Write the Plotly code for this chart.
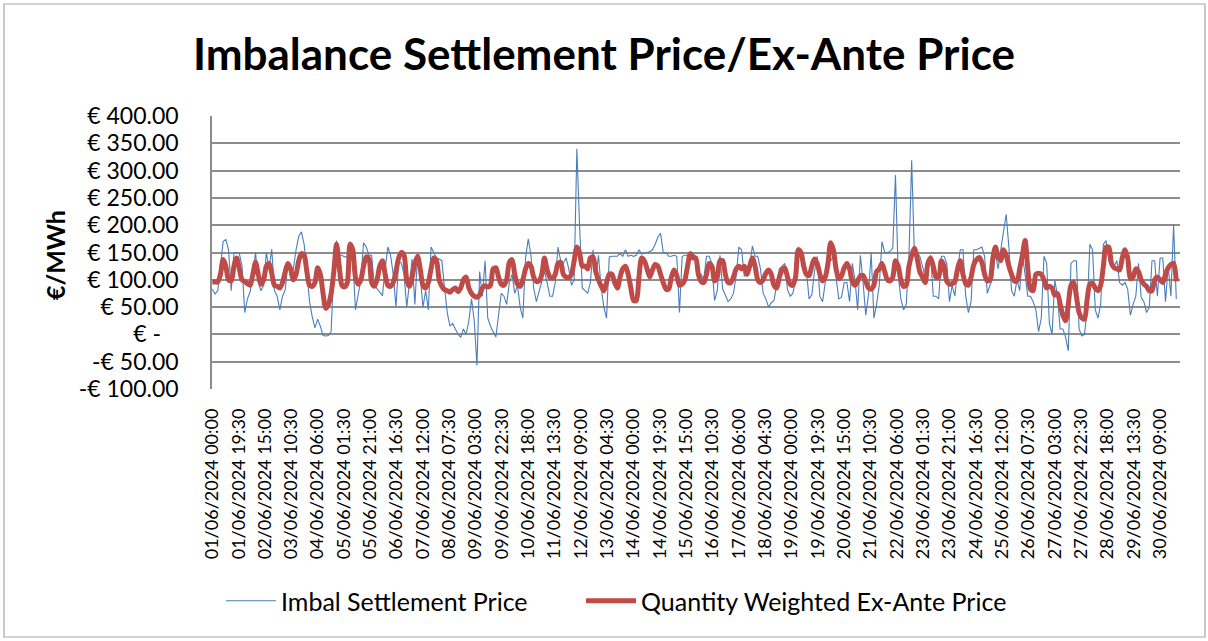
import plotly.graph_objects as go

tick_labels = [
    "01/06/2024 00:00", "01/06/2024 19:30", "02/06/2024 15:00", "03/06/2024 10:30",
    "04/06/2024 06:00", "05/06/2024 01:30", "05/06/2024 21:00", "06/06/2024 16:30",
    "07/06/2024 12:00", "08/06/2024 07:30", "09/06/2024 03:00", "09/06/2024 22:30",
    "10/06/2024 18:00", "11/06/2024 13:30", "12/06/2024 09:00", "13/06/2024 04:30",
    "14/06/2024 00:00", "14/06/2024 19:30", "15/06/2024 15:00", "16/06/2024 10:30",
    "17/06/2024 06:00", "18/06/2024 04:30", "19/06/2024 00:00", "19/06/2024 19:30",
    "20/06/2024 15:00", "21/06/2024 10:30", "22/06/2024 06:00", "23/06/2024 01:30",
    "23/06/2024 21:00", "24/06/2024 16:30", "25/06/2024 12:00", "26/06/2024 07:30",
    "27/06/2024 03:00", "27/06/2024 22:30", "28/06/2024 18:00", "29/06/2024 13:30",
    "30/06/2024 09:00",
]
n_periods = 1434
label_step = 39
sample_step = 4

imbal_price = [
    83, 74, 80, 120, 170, 174, 155, 80, 150, 150, 148, 125, 40, 65, 78, 110, 150, 95, 80, 90,
    150, 120, 156, 80, 70, 45, 70, 82, 130, 105, 120, 155, 180, 188, 165, 115, 60, 32, 12, 28,
    15, -2, -3, -2, 5,
    125, 172, 145, 145, 142, 142, 170, 140, 45, 75, 100, 168, 160, 145, 145, 90, 83, 77, 71, 120,
    160, 145, 110, 50, 135, 130, 110, 50, 100, 138, 55, 145, 107, 50, 80, 45, 160, 150, 140, 138,
    135, 85, 40, 15, 20, 10,
    0, -5, 10, 0, 25, 65, 25, -57, 115, 70, 135, 30, 15, 5, -5, 35, 75, 70, 55, 95,
    110, 75, 90, 50, 30, 140, 175, 145, 85, 60, 80, 100, 115, 95, 70, 70, 95, 160, 135, 130,
    140, 120, 90, 100,
    340, 200, 85, 80, 75, 95, 155, 100, 145, 85, 50, 30, 142, 143, 143, 143, 148, 143, 155, 143,
    145, 143, 145, 155, 147, 148, 150, 152, 155, 165, 178, 185, 150, 150, 143, 143, 145, 143, 40, 143,
    145, 145, 143, 148, 143,
    110, 110, 100, 143, 143, 130, 62, 80, 145, 83, 72, 60, 65, 75, 107, 160, 155, 107, 110, 125,
    162, 143, 143, 120, 75, 65, 50, 58, 62, 90, 120, 125, 130, 82, 70, 75, 100, 160, 150, 140,
    118, 65, 72, 115, 143,
    70, 60, 95, 143, 135, 143, 107, 65, 68, 95, 95, 60, 130, 100, 45, 145, 95, 35, 72, 150,
    30, 55, 90, 170, 150, 150, 152, 158, 292, 110, 65, 45, 55, 145, 319, 148, 150, 143, 125, 105,
    130, 145, 70, 70, 65,
    143, 143, 130, 60, 90, 70, 120, 155, 155, 70, 40, 60, 155, 155, 158, 160, 143, 75, 90, 102,
    150, 120, 155, 190, 220, 160, 80, 70, 100, 80, 145, 110, 70, 70, 60, 45, 5, 30, 143, 130,
    20, 0, 100, 70, 10,
    10, -5, -30, 130, 135, 135, 10, -3, 0, 45, 165, 155, 45, 30, 55, 165, 172, 135, 135, 125,
    135, 95, 90, 95, 83, 35, 55, 70, 130, 68, 60, 40, 50, 135, 135, 70, 140, 140, 60, 125,
    70, 201, 65,
]

ex_ante_price = [
    96, 96, 96, 110, 137, 125, 100, 98, 125, 140, 120, 100, 97, 93, 90, 110, 132, 110, 92, 100,
    125, 130, 112, 90, 88, 85, 95, 115, 130, 120, 100, 110, 135, 148, 145, 115, 90, 88, 95, 122,
    110, 75, 48, 55, 75,
    115, 165, 125, 90, 87, 95, 165, 155, 105, 92, 100, 125, 142, 138, 95, 88, 100, 125, 135, 110,
    90, 88, 95, 115, 140, 150, 145, 100, 88, 105, 130, 143, 120, 90, 85, 95, 120, 140, 135, 100,
    88, 82, 80, 77, 82, 85,
    78, 85, 100, 105, 85, 75, 70, 68, 72, 85, 89, 87, 90, 120, 122, 105, 92, 90, 100, 132,
    137, 110, 92, 88, 100, 120, 130, 125, 105, 97, 98, 110, 140, 118, 105, 103, 110, 130, 132, 110,
    105, 104, 110, 135,
    160, 150, 125, 125, 120, 140, 142, 115, 100, 89, 80, 95, 110, 110, 95, 85, 105, 120, 125, 110,
    85, 62, 62, 105, 140, 135, 120, 105, 118, 128, 125, 110, 95, 83, 83, 105, 118, 108, 90, 92,
    100, 125, 148, 140, 140,
    110, 97, 95, 110, 130, 125, 98, 105, 135, 135, 110, 95, 95, 105, 120, 125, 120, 125, 110, 125,
    140, 125, 100, 95, 100, 112, 118, 110, 90, 85, 105, 118, 122, 105, 92, 90, 105, 155, 150, 125,
    110, 108, 125, 138, 130,
    110, 98, 105, 130, 168, 155, 120, 102, 107, 122, 130, 120, 97, 90, 98, 107, 108, 97, 85, 83,
    90, 115, 120, 130, 115, 100, 98, 105, 135, 125, 100, 88, 90, 125, 145, 158, 140, 115, 105, 95,
    130, 140, 125, 105, 105,
    135, 125, 97, 92, 93, 97, 120, 135, 110, 93, 90, 105, 128, 137, 141, 132, 110, 98, 100, 137,
    160, 143, 135, 155, 145, 125, 110, 98, 98, 120, 145, 172, 120, 83, 80, 110, 112, 110, 100, 85,
    88, 85, 72, 75, 55,
    35, 25, 55, 90, 95, 70, 40, 30, 28, 65, 92, 93, 85, 80, 90, 125, 160, 160, 130, 122,
    120, 118, 140, 155, 140, 102, 105, 120, 115, 100, 92, 88, 80, 80, 100, 105, 100, 95, 110, 122,
    128, 130, 97,
]

y_tick_vals = [-100, -50, 0, 50, 100, 150, 200, 250, 300, 350, 400]
y_tick_text = ["-€ 100.00", "-€ 50.00", "€ -   ", "€ 50.00", "€ 100.00", "€ 150.00",
               "€ 200.00", "€ 250.00", "€ 300.00", "€ 350.00", "€ 400.00"]

# ---- figure ----
FONT = "Lato"
W, H = 1208, 641
L, R, T, B = 212, 28, 116, 252
pw, ph = W - L - R, H - T - B


def px_x(p):
    return (p - L) / pw


def px_y(p):
    return (H - B - p) / ph


x_blue = [i * sample_step for i in range(len(imbal_price))]
x_red = [i * sample_step for i in range(len(ex_ante_price))]

fig = go.Figure()
fig.add_trace(go.Scatter(
    x=x_blue, y=imbal_price, mode="lines", name="Imbal Settlement Price",
    line=dict(color="#4A7EBB", width=1.1), legend="legend",
))
fig.add_trace(go.Scatter(
    x=x_red, y=ex_ante_price, mode="lines", name="Quantity Weighted Ex-Ante Price",
    line=dict(color="#BE4B48", width=5, shape="spline", smoothing=0.8), legend="legend2",
))

legend_common = dict(orientation="h", y=px_y(601), yanchor="middle", xanchor="left",
                     font=dict(family=FONT, size=25), bgcolor="rgba(0,0,0,0)", itemwidth=50)

fig.update_layout(
    width=W, height=H,
    margin=dict(l=L, r=R, t=T, b=B),
    paper_bgcolor="white", plot_bgcolor="white",
    font=dict(family=FONT, color="black"),
    title=dict(text="<b>Imbalance Settlement Price/Ex-Ante Price</b>",
               font=dict(family=FONT, size=44, color="black"),
               x=0.5, xref="container", xanchor="center", y=(H - 55) / H, yanchor="middle"),
    showlegend=True,
    legend=dict(x=px_x(221), **legend_common),
    legend2=dict(x=px_x(581), **legend_common),
    xaxis=dict(range=[-0.5, n_periods - 0.5], tickmode="array",
               tickvals=[i * label_step for i in range(len(tick_labels))],
               ticktext=tick_labels, tickangle=-90, tickfont=dict(family=FONT, size=18),
               showgrid=False, zeroline=False, showline=False, ticks="",
               ticklabelstandoff=15),
    yaxis=dict(range=[-100, 400], tickmode="array", tickvals=y_tick_vals, ticktext=y_tick_text,
               tickfont=dict(family=FONT, size=23), showgrid=True, gridcolor="#8c8c8c",
               gridwidth=1.6, zeroline=False, showline=True, linecolor="#8c8c8c", linewidth=1.6,
               ticks="", ticklabelstandoff=27),
    annotations=[dict(text="<b>€/MWh</b>", textangle=-90, x=px_x(55), y=px_y(255),
                      xref="paper", yref="paper", xanchor="center", yanchor="middle",
                      showarrow=False, font=dict(family=FONT, size=25, color="black"))],
    shapes=[dict(type="rect", xref="paper", yref="paper",
                 x0=px_x(4), x1=px_x(1205), y0=px_y(637), y1=px_y(4),
                 line=dict(color="#a6a6a6", width=1.2), fillcolor="rgba(0,0,0,0)", layer="below")],
)

fig.write_html("out.html", config={"displayModeBar": False},
               post_script="document.body.style.margin='0';")
